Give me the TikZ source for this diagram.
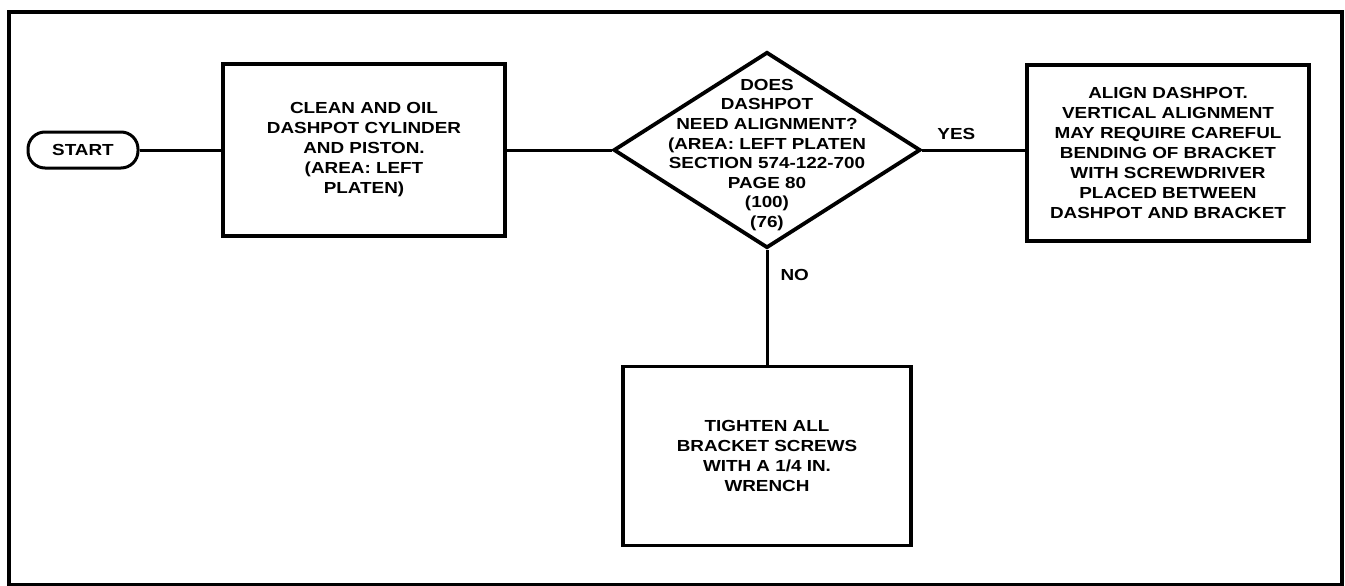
\documentclass[tikz,border=0pt]{standalone}
\usepackage{fontspec}
\newfontfamily\flowfont{Liberation Sans}[FakeStretch=1.18]
\usepackage{tikz}
\usetikzlibrary{shapes.geometric}

\begin{document}
\begin{tikzpicture}[x=1pt,y=-1pt]
\useasboundingbox (0,0) rectangle (1345,586);
\tikzstyle{every node}=[font=\flowfont\bfseries\fontsize{16}{20}\selectfont,align=center,inner sep=0pt]
\tikzstyle{box}=[draw,line width=3.8pt,minimum width=282pt,minimum height=174pt]
    % frame
    \draw[line width=3.8pt] (9,12) rectangle (1342,585);
    \node[draw,line width=3pt,rounded corners=17pt,minimum width=110pt,minimum height=36pt](s) at (83,150){START};
    \node[box,minimum height=172pt](b1) at (364,150){CLEAN AND OIL\\DASHPOT CYLINDER\\AND PISTON.\\(AREA: LEFT\\PLATEN)};
    \node[draw,diamond,line width=3.8pt,minimum width=307pt,minimum height=196pt](d) at (767,150){};
    \node[font=\flowfont\bfseries\fontsize{16}{19.6}\selectfont](dt) at (767,155){DOES\\DASHPOT\\NEED ALIGNMENT?\\(AREA: LEFT PLATEN\\SECTION 574-122-700\\PAGE 80\\(100)\\(76)};
    \node[box,minimum height=176pt](b2) at (1168,153){ALIGN DASHPOT.\\VERTICAL ALIGNMENT\\MAY REQUIRE CAREFUL\\BENDING OF BRACKET\\WITH SCREWDRIVER\\PLACED BETWEEN\\DASHPOT AND BRACKET};
    \node[box,minimum width=288pt,minimum height=179pt](b3) at (767,456){TIGHTEN ALL\\BRACKET SCREWS\\WITH A 1/4 IN.\\WRENCH};
    \draw[line width=3pt](s.east)--(s.east -| b1.west);
    \draw[line width=3pt](d.west -| b1.east)--(d.west);
    \draw[line width=3pt](d.east)--(d.east -| b2.west) node[pos=0.33,above=9pt]{YES};
    \draw[line width=3pt](d.south)--(b3.north) node[pos=0.22,right=12pt]{NO};
  \tikzstyle{every node}=[]
\end{tikzpicture}
\end{document}
